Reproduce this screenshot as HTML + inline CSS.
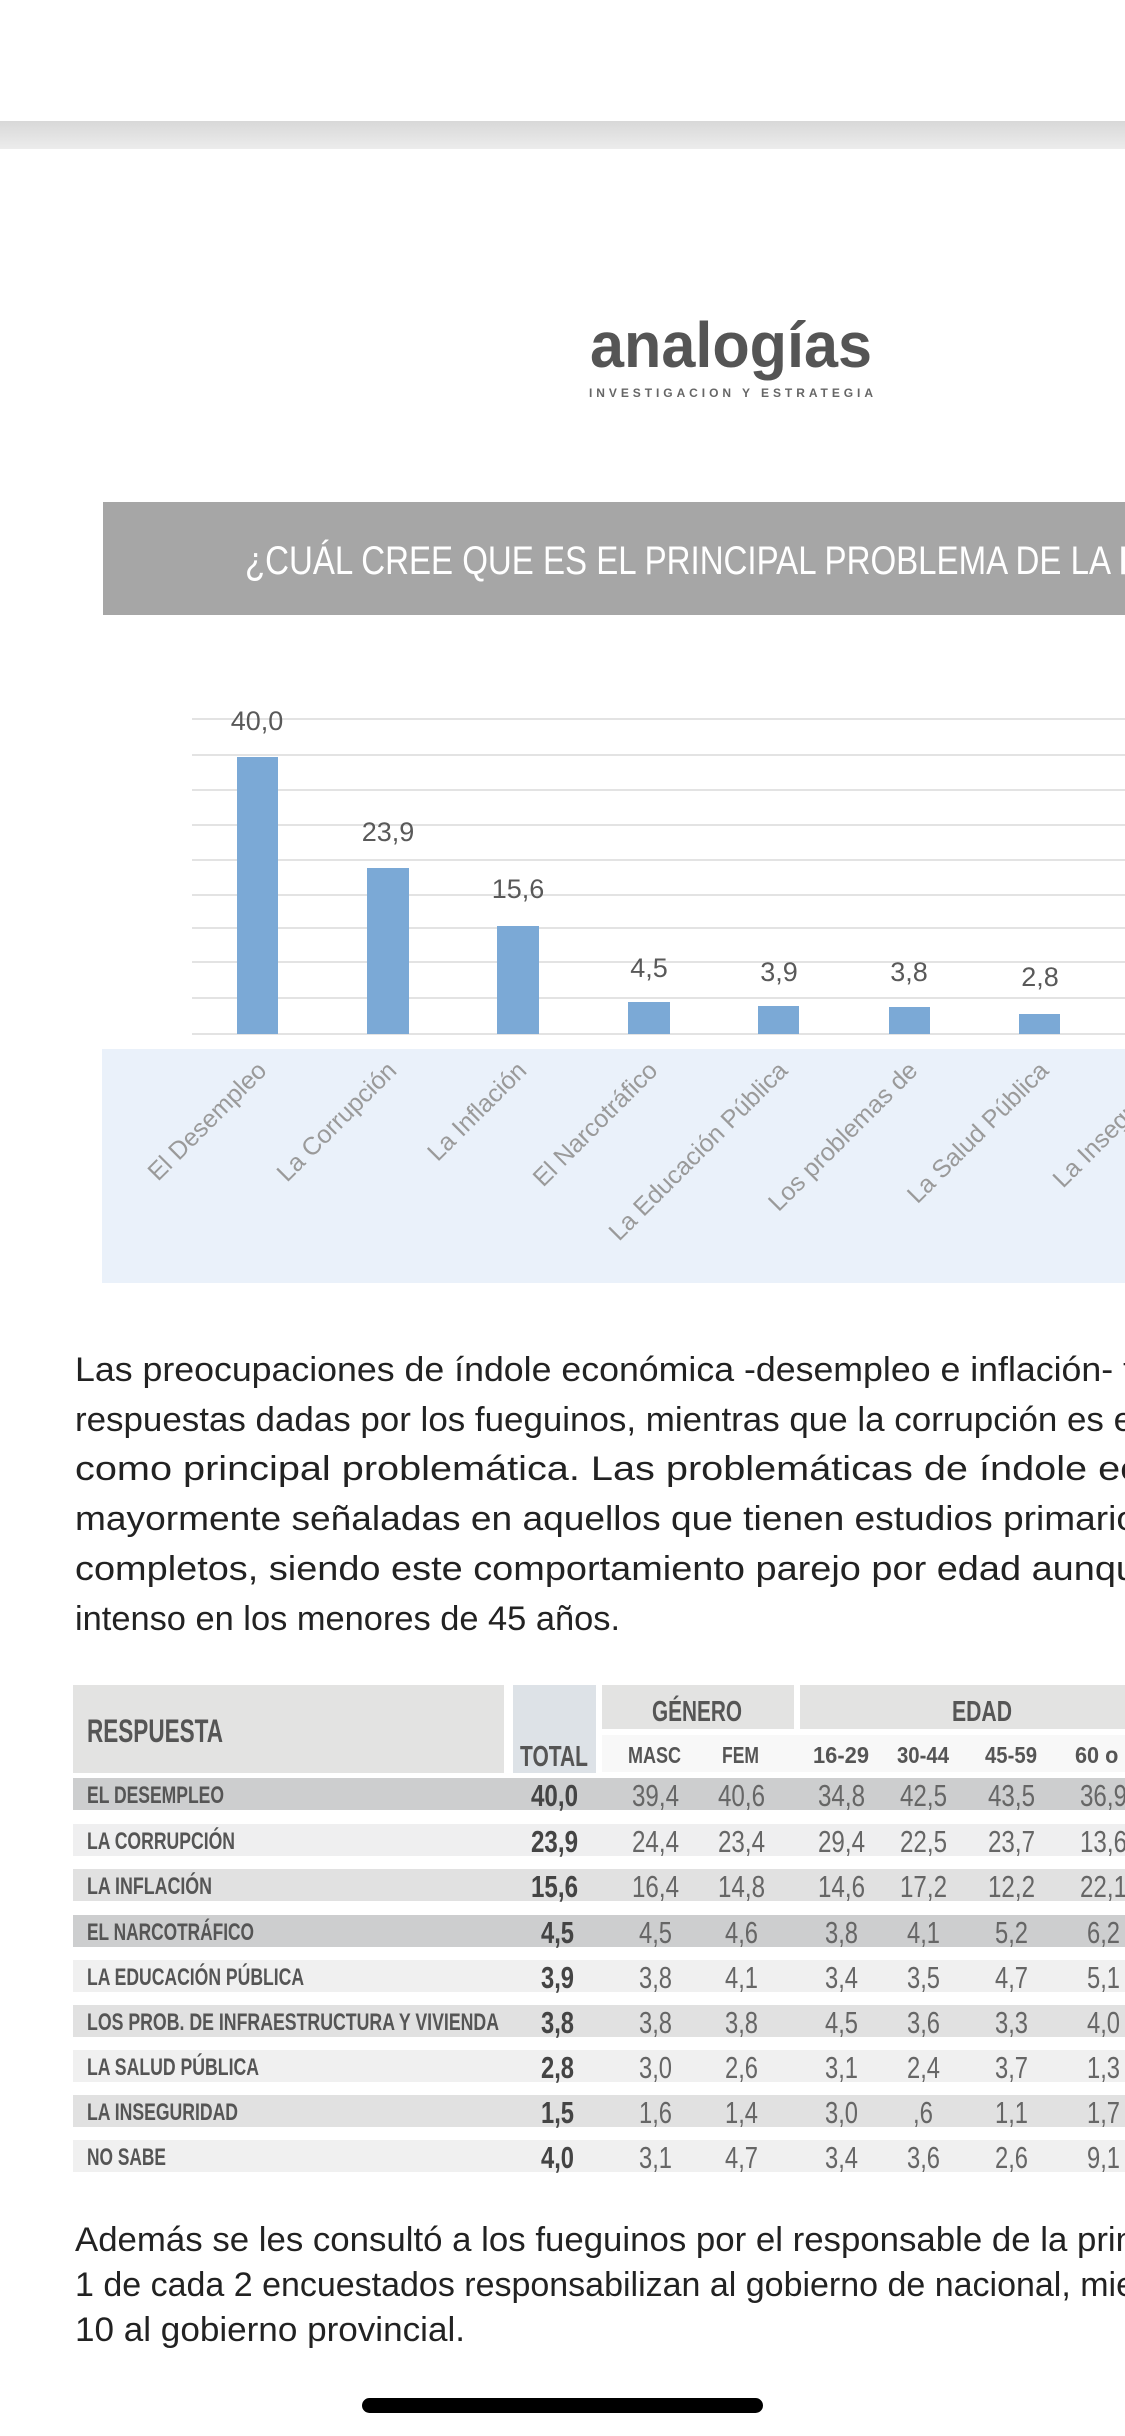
<!DOCTYPE html>
<html><head><meta charset="utf-8"><style>
html,body{margin:0;padding:0;background:#fff;width:1125px;height:2436px;overflow:hidden}
svg{display:block}
.s{font-family:"Liberation Sans",sans-serif}
</style></head><body>
<svg width="1125" height="2436" viewBox="0 0 1125 2436" xmlns="http://www.w3.org/2000/svg">
<defs><linearGradient id="g" x1="0" y1="0" x2="0" y2="1"><stop offset="0" stop-color="#d8d8d8"/><stop offset="1" stop-color="#ececec"/></linearGradient></defs>
<rect x="0" y="121" width="1125" height="28" fill="url(#g)"/>
<text x="731" y="367" text-anchor="middle" class="s" font-size="64" font-weight="bold" fill="#555" textLength="282" lengthAdjust="spacingAndGlyphs">analogías</text>
<text x="731" y="397" text-anchor="middle" class="s" font-size="12" font-weight="bold" fill="#666" textLength="284" lengthAdjust="spacing">INVESTIGACION Y ESTRATEGIA</text>
<rect x="103" y="502" width="1022" height="113" fill="#a6a6a6"/>
<text x="245" y="574" class="s" font-size="40" fill="#fff" textLength="866" lengthAdjust="spacingAndGlyphs">¿CUÁL CREE QUE ES EL PRINCIPAL PROBLEMA DE LA</text>
<text x="1118" y="574" class="s" font-size="40" fill="#fff">P</text>
<g stroke="#e3e3e3" stroke-width="2">
<line x1="192" y1="719" x2="1125" y2="719"/><line x1="192" y1="755" x2="1125" y2="755"/><line x1="192" y1="790" x2="1125" y2="790"/><line x1="192" y1="825" x2="1125" y2="825"/><line x1="192" y1="860" x2="1125" y2="860"/><line x1="192" y1="895" x2="1125" y2="895"/><line x1="192" y1="928" x2="1125" y2="928"/><line x1="192" y1="962" x2="1125" y2="962"/><line x1="192" y1="998" x2="1125" y2="998"/><line x1="192" y1="1034" x2="1125" y2="1034"/>
</g>
<g fill="#7ba9d6">
<rect x="237" y="757" width="41" height="277"/>
<rect x="367" y="868" width="42" height="166"/>
<rect x="497" y="926" width="42" height="108"/>
<rect x="628" y="1002" width="42" height="32"/>
<rect x="758" y="1006" width="41" height="28"/>
<rect x="889" y="1007" width="41" height="27"/>
<rect x="1019" y="1014" width="41" height="20"/>
</g>
<g class="s" font-size="27" fill="#595959" text-anchor="middle">
<text x="257" y="730">40,0</text><text x="388" y="841">23,9</text><text x="518" y="898">15,6</text><text x="649" y="977">4,5</text><text x="779" y="981">3,9</text><text x="909" y="981">3,8</text><text x="1040" y="986">2,8</text>
</g>
<rect x="102" y="1049" width="1023" height="234" fill="#eaf1fa"/>
<g class="s" font-size="25" fill="#9a9a9a" text-anchor="end">
<text transform="translate(268,1072) rotate(-45)">El Desempleo</text>
<text transform="translate(398,1072) rotate(-45)">La Corrupción</text>
<text transform="translate(528,1072) rotate(-45)">La Inflación</text>
<text transform="translate(659,1072) rotate(-45)">El Narcotráfico</text>
<text transform="translate(789,1072) rotate(-45)">La Educación Pública</text>
<text transform="translate(919,1072) rotate(-45)">Los problemas de</text>
<text transform="translate(1050,1072) rotate(-45)">La Salud Pública</text>
<text transform="translate(1180,1072) rotate(-45)">La Inseguridad</text>
</g>
<g class="s" font-size="34" fill="#222">
<text x="75" y="1381" textLength="1058" lengthAdjust="spacingAndGlyphs">Las preocupaciones de índole económica -desempleo e inflación- f</text>
<text x="75" y="1431" textLength="1058" lengthAdjust="spacingAndGlyphs">respuestas dadas por los fueguinos, mientras que la corrupción es e</text>
<text x="75" y="1480" textLength="1065" lengthAdjust="spacingAndGlyphs">como principal problemática. Las problemáticas de índole ec</text>
<text x="75" y="1530" textLength="1062" lengthAdjust="spacingAndGlyphs">mayormente señaladas en aquellos que tienen estudios primario</text>
<text x="75" y="1580" textLength="1062" lengthAdjust="spacingAndGlyphs">completos, siendo este comportamiento parejo por edad aunqu</text>
<text x="75" y="1630" textLength="545" lengthAdjust="spacingAndGlyphs">intenso en los menores de 45 años.</text>
<text x="75" y="2251" textLength="1060" lengthAdjust="spacingAndGlyphs">Además se les consultó a los fueguinos por el responsable de la prin</text>
<text x="75" y="2296" textLength="1060" lengthAdjust="spacingAndGlyphs">1 de cada 2 encuestados responsabilizan al gobierno de nacional, mie</text>
<text x="75" y="2341" textLength="390" lengthAdjust="spacingAndGlyphs">10 al gobierno provincial.</text>
</g>
<!-- table -->
<rect x="73" y="1685" width="431" height="88" fill="#e3e3e2"/>
<rect x="513" y="1685" width="83" height="88" fill="#dde2e7"/>
<rect x="602" y="1685" width="192" height="44" fill="#e3e3e2"/>
<rect x="800" y="1685" width="325" height="44" fill="#e3e3e2"/>
<rect x="602" y="1735" width="523" height="37" fill="#f8f8f8"/>
<g class="s" font-weight="bold" fill="#555" lengthAdjust="spacingAndGlyphs">
<text x="87" y="1742" font-size="32" textLength="136" lengthAdjust="spacingAndGlyphs">RESPUESTA</text>
<text x="520" y="1766" font-size="29" textLength="68" lengthAdjust="spacingAndGlyphs">TOTAL</text>
<text x="652" y="1721" font-size="29" textLength="90" lengthAdjust="spacingAndGlyphs">GÉNERO</text>
<text x="952" y="1721" font-size="29" textLength="60" lengthAdjust="spacingAndGlyphs">EDAD</text>
<g font-size="23">
<text x="628" y="1763" textLength="53" lengthAdjust="spacingAndGlyphs">MASC</text>
<text x="722" y="1763" textLength="37" lengthAdjust="spacingAndGlyphs">FEM</text>
<text x="813" y="1763" textLength="56" lengthAdjust="spacingAndGlyphs">16-29</text>
<text x="897" y="1763" textLength="52" lengthAdjust="spacingAndGlyphs">30-44</text>
<text x="985" y="1763" textLength="52" lengthAdjust="spacingAndGlyphs">45-59</text>
<text x="1075" y="1763" textLength="62" lengthAdjust="spacingAndGlyphs">60 o +</text>
</g>
</g>
<rect x="73" y="1778" width="1052" height="32" fill="#cdcecf"/>
<rect x="73" y="1824" width="1052" height="32" fill="#efeff0"/>
<rect x="73" y="1869" width="1052" height="32" fill="#e1e1e1"/>
<rect x="73" y="1915" width="1052" height="32" fill="#cdcecf"/>
<rect x="73" y="1960" width="1052" height="32" fill="#f0f0f0"/>
<rect x="73" y="2005" width="1052" height="32" fill="#e1e1e1"/>
<rect x="73" y="2050" width="1052" height="32" fill="#f0f0f0"/>
<rect x="73" y="2095" width="1052" height="32" fill="#e1e1e1"/>
<rect x="73" y="2140" width="1052" height="32" fill="#f0f0f0"/>
<g class="s" font-weight="bold" font-size="24" fill="#555">
<text x="87" y="1803" textLength="137" lengthAdjust="spacingAndGlyphs">EL DESEMPLEO</text>
<text x="87" y="1849" textLength="148" lengthAdjust="spacingAndGlyphs">LA CORRUPCIÓN</text>
<text x="87" y="1894" textLength="125" lengthAdjust="spacingAndGlyphs">LA INFLACIÓN</text>
<text x="87" y="1940" textLength="167" lengthAdjust="spacingAndGlyphs">EL NARCOTRÁFICO</text>
<text x="87" y="1985" textLength="217" lengthAdjust="spacingAndGlyphs">LA EDUCACIÓN PÚBLICA</text>
<text x="87" y="2030" textLength="412" lengthAdjust="spacingAndGlyphs">LOS PROB. DE INFRAESTRUCTURA Y VIVIENDA</text>
<text x="87" y="2075" textLength="172" lengthAdjust="spacingAndGlyphs">LA SALUD PÚBLICA</text>
<text x="87" y="2120" textLength="151" lengthAdjust="spacingAndGlyphs">LA INSEGURIDAD</text>
<text x="87" y="2165" textLength="79" lengthAdjust="spacingAndGlyphs">NO SABE</text>
</g>
<g class="s" font-weight="bold" font-size="31" fill="#444">
<text x="531" y="1806" textLength="47" lengthAdjust="spacingAndGlyphs">40,0</text>
<text x="531" y="1852" textLength="47" lengthAdjust="spacingAndGlyphs">23,9</text>
<text x="531" y="1897" textLength="47" lengthAdjust="spacingAndGlyphs">15,6</text>
<text x="541" y="1943" textLength="33" lengthAdjust="spacingAndGlyphs">4,5</text>
<text x="541" y="1988" textLength="33" lengthAdjust="spacingAndGlyphs">3,9</text>
<text x="541" y="2033" textLength="33" lengthAdjust="spacingAndGlyphs">3,8</text>
<text x="541" y="2078" textLength="33" lengthAdjust="spacingAndGlyphs">2,8</text>
<text x="541" y="2123" textLength="33" lengthAdjust="spacingAndGlyphs">1,5</text>
<text x="541" y="2168" textLength="33" lengthAdjust="spacingAndGlyphs">4,0</text>
</g>
<g class="s" font-size="31" fill="#666">
<text x="632" y="1806" textLength="47" lengthAdjust="spacingAndGlyphs">39,4</text><text x="718" y="1806" textLength="47" lengthAdjust="spacingAndGlyphs">40,6</text><text x="818" y="1806" textLength="47" lengthAdjust="spacingAndGlyphs">34,8</text><text x="900" y="1806" textLength="47" lengthAdjust="spacingAndGlyphs">42,5</text><text x="988" y="1806" textLength="47" lengthAdjust="spacingAndGlyphs">43,5</text><text x="1080" y="1806" textLength="47" lengthAdjust="spacingAndGlyphs">36,9</text>
<text x="632" y="1852" textLength="47" lengthAdjust="spacingAndGlyphs">24,4</text><text x="718" y="1852" textLength="47" lengthAdjust="spacingAndGlyphs">23,4</text><text x="818" y="1852" textLength="47" lengthAdjust="spacingAndGlyphs">29,4</text><text x="900" y="1852" textLength="47" lengthAdjust="spacingAndGlyphs">22,5</text><text x="988" y="1852" textLength="47" lengthAdjust="spacingAndGlyphs">23,7</text><text x="1080" y="1852" textLength="47" lengthAdjust="spacingAndGlyphs">13,6</text>
<text x="632" y="1897" textLength="47" lengthAdjust="spacingAndGlyphs">16,4</text><text x="718" y="1897" textLength="47" lengthAdjust="spacingAndGlyphs">14,8</text><text x="818" y="1897" textLength="47" lengthAdjust="spacingAndGlyphs">14,6</text><text x="900" y="1897" textLength="47" lengthAdjust="spacingAndGlyphs">17,2</text><text x="988" y="1897" textLength="47" lengthAdjust="spacingAndGlyphs">12,2</text><text x="1080" y="1897" textLength="47" lengthAdjust="spacingAndGlyphs">22,1</text>
<text x="639" y="1943" textLength="33" lengthAdjust="spacingAndGlyphs">4,5</text><text x="725" y="1943" textLength="33" lengthAdjust="spacingAndGlyphs">4,6</text><text x="825" y="1943" textLength="33" lengthAdjust="spacingAndGlyphs">3,8</text><text x="907" y="1943" textLength="33" lengthAdjust="spacingAndGlyphs">4,1</text><text x="995" y="1943" textLength="33" lengthAdjust="spacingAndGlyphs">5,2</text><text x="1087" y="1943" textLength="33" lengthAdjust="spacingAndGlyphs">6,2</text>
<text x="639" y="1988" textLength="33" lengthAdjust="spacingAndGlyphs">3,8</text><text x="725" y="1988" textLength="33" lengthAdjust="spacingAndGlyphs">4,1</text><text x="825" y="1988" textLength="33" lengthAdjust="spacingAndGlyphs">3,4</text><text x="907" y="1988" textLength="33" lengthAdjust="spacingAndGlyphs">3,5</text><text x="995" y="1988" textLength="33" lengthAdjust="spacingAndGlyphs">4,7</text><text x="1087" y="1988" textLength="33" lengthAdjust="spacingAndGlyphs">5,1</text>
<text x="639" y="2033" textLength="33" lengthAdjust="spacingAndGlyphs">3,8</text><text x="725" y="2033" textLength="33" lengthAdjust="spacingAndGlyphs">3,8</text><text x="825" y="2033" textLength="33" lengthAdjust="spacingAndGlyphs">4,5</text><text x="907" y="2033" textLength="33" lengthAdjust="spacingAndGlyphs">3,6</text><text x="995" y="2033" textLength="33" lengthAdjust="spacingAndGlyphs">3,3</text><text x="1087" y="2033" textLength="33" lengthAdjust="spacingAndGlyphs">4,0</text>
<text x="639" y="2078" textLength="33" lengthAdjust="spacingAndGlyphs">3,0</text><text x="725" y="2078" textLength="33" lengthAdjust="spacingAndGlyphs">2,6</text><text x="825" y="2078" textLength="33" lengthAdjust="spacingAndGlyphs">3,1</text><text x="907" y="2078" textLength="33" lengthAdjust="spacingAndGlyphs">2,4</text><text x="995" y="2078" textLength="33" lengthAdjust="spacingAndGlyphs">3,7</text><text x="1087" y="2078" textLength="33" lengthAdjust="spacingAndGlyphs">1,3</text>
<text x="639" y="2123" textLength="33" lengthAdjust="spacingAndGlyphs">1,6</text><text x="725" y="2123" textLength="33" lengthAdjust="spacingAndGlyphs">1,4</text><text x="825" y="2123" textLength="33" lengthAdjust="spacingAndGlyphs">3,0</text><text x="913" y="2123" textLength="20" lengthAdjust="spacingAndGlyphs">,6</text><text x="995" y="2123" textLength="33" lengthAdjust="spacingAndGlyphs">1,1</text><text x="1087" y="2123" textLength="33" lengthAdjust="spacingAndGlyphs">1,7</text>
<text x="639" y="2168" textLength="33" lengthAdjust="spacingAndGlyphs">3,1</text><text x="725" y="2168" textLength="33" lengthAdjust="spacingAndGlyphs">4,7</text><text x="825" y="2168" textLength="33" lengthAdjust="spacingAndGlyphs">3,4</text><text x="907" y="2168" textLength="33" lengthAdjust="spacingAndGlyphs">3,6</text><text x="995" y="2168" textLength="33" lengthAdjust="spacingAndGlyphs">2,6</text><text x="1087" y="2168" textLength="33" lengthAdjust="spacingAndGlyphs">9,1</text>
</g>
<rect x="362" y="2398" width="401" height="15" rx="7.5" fill="#000"/>
</svg>
</body></html>
